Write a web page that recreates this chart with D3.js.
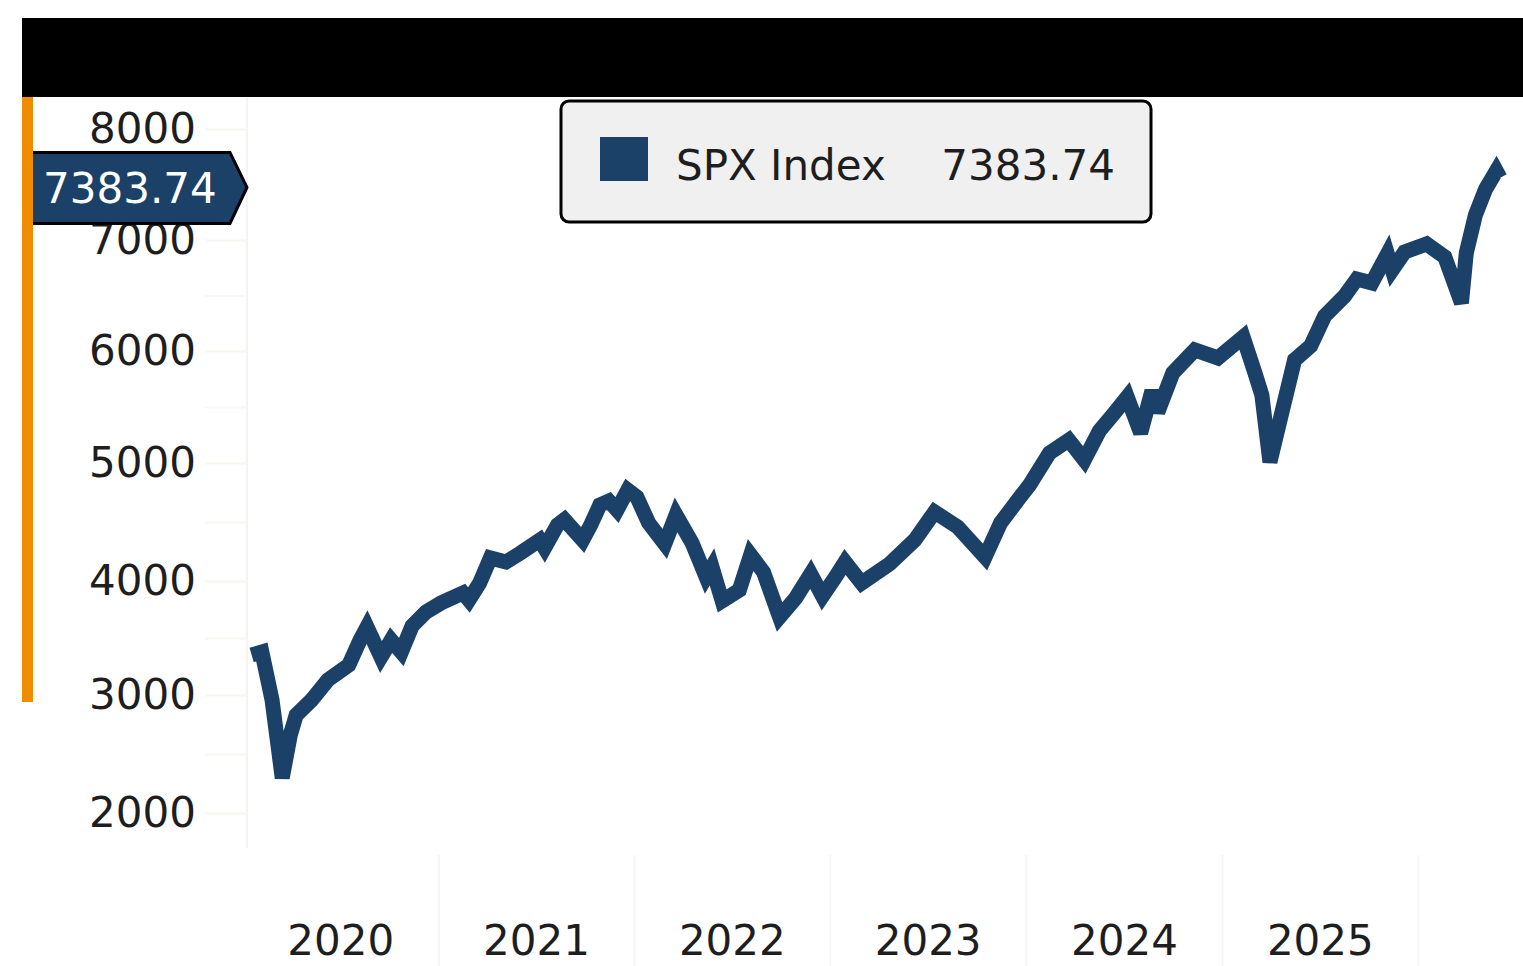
<!DOCTYPE html>
<html>
<head>
<meta charset="utf-8">
<script src="https://cdn.jsdelivr.net/npm/d3@7"></script>
<style>
  body { margin: 0; background: #fff; }
  svg { display: block; font-family: "DejaVu Sans", sans-serif; }
</style>
</head>
<body>
<div id="chart"></div>
<script>
// frame
const FRAME_WIDTH = 1523;
const FRAME_HEIGHT = 966;

// series (weekly-ish closes)
const seriesName = "SPX Index";
const lastLabel = "7383.74";
const dates = [
  "2020-01-19","2020-02-07","2020-02-26","2020-03-16","2020-03-31","2020-04-11","2020-05-10","2020-06-09",
  "2020-07-18","2020-08-08","2020-08-21","2020-09-16","2020-10-05","2020-10-24","2020-11-13","2020-12-09",
  "2021-01-06","2021-02-16","2021-02-27","2021-03-19","2021-04-08","2021-05-07","2021-06-03","2021-07-09",
  "2021-07-18","2021-08-11","2021-08-24","2021-09-27","2021-10-12","2021-10-29","2021-11-15","2021-11-30",
  "2021-12-20","2022-01-06","2022-01-28","2022-02-27","2022-03-20","2022-04-19","2022-05-15","2022-05-26",
  "2022-06-14","2022-07-16","2022-08-06","2022-08-30","2022-09-29","2022-10-29","2022-11-26","2022-12-18",
  "2023-01-10","2023-01-29","2023-03-01","2023-04-22","2023-06-08","2023-07-15","2023-08-27","2023-10-17",
  "2023-11-15","2023-12-20","2024-01-08","2024-02-14","2024-03-21","2024-04-19","2024-05-17","2024-06-14",
  "2024-07-08","2024-08-02","2024-08-23","2024-09-03","2024-10-01","2024-11-11","2024-12-24","2025-02-09",
  "2025-03-03","2025-03-16","2025-03-31","2025-04-22","2025-05-16","2025-06-15","2025-07-11","2025-08-17",
  "2025-09-09","2025-10-07","2025-11-05","2025-11-14","2025-12-07","2026-01-17","2026-02-20","2026-03-23",
  "2026-04-01","2026-04-18","2026-05-07","2026-05-27","2026-06-03"
];
const closes = [
  3351, 3377, 2958, 2297, 2661, 2830, 2958, 3132,
  3263, 3482, 3596, 3333, 3482, 3377, 3605, 3728,
  3807, 3895, 3833, 3982, 4195, 4161, 4237, 4347,
  4280, 4475, 4520, 4347, 4475, 4644, 4678, 4602,
  4771, 4712, 4492, 4314, 4560, 4322, 4034, 4119,
  3825, 3921, 4220, 4076, 3684, 3851, 4059, 3868,
  4026, 4161, 3982, 4144, 4347, 4585, 4458, 4203,
  4492, 4703, 4814, 5089, 5205, 5027, 5286, 5446,
  5589, 5268, 5643, 5455, 5804, 6009, 5938, 6126,
  5804, 5607, 5009, 5446, 5920, 6045, 6315, 6495,
  6649, 6613, 6874, 6730, 6892, 6964, 6847, 6432,
  6883, 7225, 7459, 7622, 7560
];

// axis ticks
const yTicks = [2000, 3000, 4000, 5000, 6000, 7000, 8000];
const yMinorTicks = [2500, 3500, 4500, 5500, 6500, 7500];
const yearStarts = ["2021-01-01","2022-01-01","2023-01-01","2024-01-01","2025-01-01","2026-01-01"];
const yearLabels = ["2020","2021","2022","2023","2024","2025"];

const NAVY = "#1b4168";
const parse = d3.timeParse("%Y-%m-%d");
const data = dates.map((d, i) => ({date: parse(d), value: closes[i]}));

const svg = d3.select("#chart").append("svg")
    .attr("width", FRAME_WIDTH)
    .attr("height", FRAME_HEIGHT);

// scales (y is polylinear to follow the uneven tick spacing of the picture)
const X_SCALE = d3.scaleTime()
    .domain([parse("2020-01-01"), parse("2026-01-01")])
    .range([242, 1418]);
const Y_SCALE = d3.scaleLinear()
    .domain(yTicks)
    .range([813, 695, 581, 463, 351, 240, 129]);

// header band
svg.append("rect")
    .attr("x", 22).attr("y", 18)
    .attr("width", FRAME_WIDTH - 22).attr("height", 79)
    .attr("fill", "#000");

// faint y axis line
svg.append("line")
    .attr("x1", 247).attr("x2", 247)
    .attr("y1", 97).attr("y2", 848)
    .attr("stroke", "#f6f3f0").attr("stroke-width", 2);

// y axis
const yAxis = svg.append("g")
    .attr("transform", "translate(247,0)")
    .call(d3.axisLeft(Y_SCALE).tickValues(yTicks).tickSize(42).tickPadding(9)
          .tickFormat(d3.format("d")));
yAxis.select(".domain").remove();
yAxis.selectAll(".tick line").attr("stroke", "#f8f5f2").attr("stroke-width", 2);
yAxis.selectAll(".tick text")
    .attr("font-size", 42)
    .attr("font-family", "DejaVu Sans")
    .attr("fill", "#1e1e1e");

svg.append("g")
    .attr("transform", "translate(247,0)")
    .call(d3.axisLeft(Y_SCALE).tickValues(yMinorTicks).tickSize(42).tickFormat(""))
    .call(g => g.select(".domain").remove())
    .selectAll(".tick line").attr("stroke", "#faf8f6").attr("stroke-width", 2);

// x axis: year separators + centred year labels
const xGrid = svg.append("g")
    .attr("transform", "translate(0,855)")
    .call(d3.axisBottom(X_SCALE).tickValues(yearStarts.map(parse)).tickSize(111).tickFormat(""));
xGrid.select(".domain").remove();
xGrid.selectAll(".tick line").attr("stroke", "#f6f6f6").attr("stroke-width", 2);

const midYears = yearLabels.map(y => new Date(+y, 6, 2));
const xAxis = svg.append("g")
    .attr("transform", "translate(0,925)")
    .call(d3.axisBottom(X_SCALE).tickValues(midYears).tickSize(0).tickPadding(0)
          .tickFormat(d3.timeFormat("%Y")));
xAxis.select(".domain").remove();
xAxis.selectAll(".tick text")
    .attr("font-size", 42)
    .attr("font-family", "DejaVu Sans")
    .attr("fill", "#1e1e1e")
    .attr("dy", "0.72em");

// the index line
svg.append("path")
    .datum(data)
    .attr("fill", "none")
    .attr("stroke", NAVY)
    .attr("stroke-width", 15)
    .attr("stroke-linejoin", "miter")
    .attr("stroke-miterlimit", 3)
    .attr("d", d3.line().x(d => X_SCALE(d.date)).y(d => Y_SCALE(d.value)));

// last value tag on the axis
const tagY = Y_SCALE(+lastLabel) - 10;
svg.append("path")
    .attr("d", `M30,${tagY - 35} H230 L247,${tagY} L230,${tagY + 36} H30 Z`)
    .attr("fill", NAVY)
    .attr("stroke", "#000")
    .attr("stroke-width", 3);
svg.append("text")
    .attr("x", 43).attr("y", tagY + 16)
    .attr("font-size", 42)
    .attr("fill", "#fff")
    .text(lastLabel);

// orange marker bar
svg.append("rect")
    .attr("x", 22).attr("y", 97)
    .attr("width", 11).attr("height", 605)
    .attr("fill", "#f08c00");

// legend
const legend = svg.append("g");
legend.append("rect")
    .attr("x", 561).attr("y", 101)
    .attr("width", 590).attr("height", 121)
    .attr("rx", 8)
    .attr("fill", "#f0f0f0")
    .attr("stroke", "#000")
    .attr("stroke-width", 3);
legend.append("rect")
    .attr("x", 600).attr("y", 137)
    .attr("width", 48).attr("height", 44)
    .attr("fill", NAVY);
legend.append("text")
    .attr("x", 676).attr("y", 180)
    .attr("font-size", 42)
    .attr("fill", "#1e1e1e")
    .text(seriesName);
legend.append("text")
    .attr("x", 1115).attr("y", 180)
    .attr("text-anchor", "end")
    .attr("font-size", 42)
    .attr("fill", "#1e1e1e")
    .text(lastLabel);
</script>
</body>
</html>
